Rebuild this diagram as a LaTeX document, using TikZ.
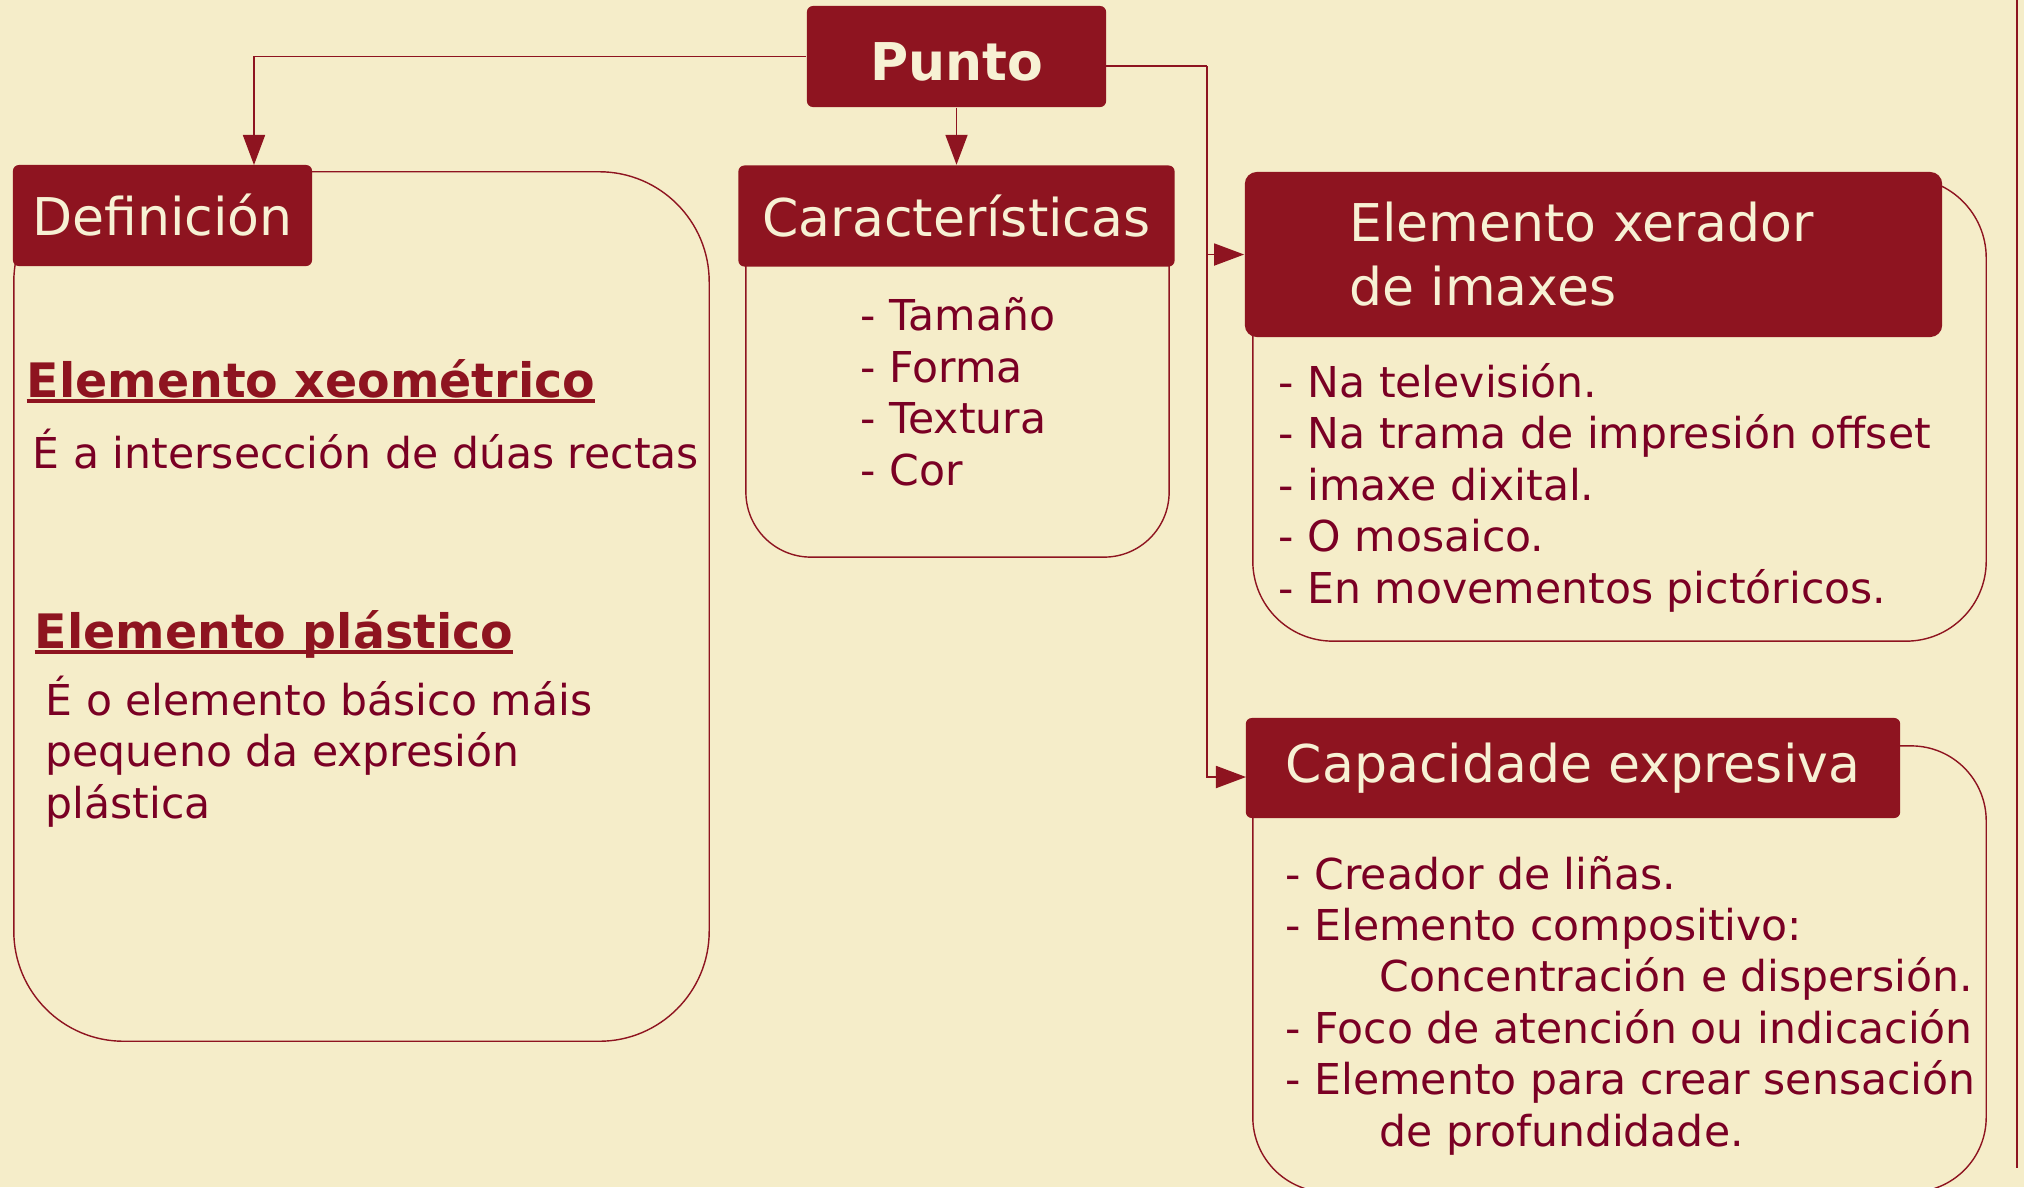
\documentclass[tikz,border=0pt]{standalone}
\usepackage{fontspec}
\setmainfont{DejaVu Sans}
\usepackage{tikz}
\usetikzlibrary{arrows.meta, positioning, graphs}
\definecolor{cream}{RGB}{245,237,201}
\definecolor{puntored}{RGB}{142,20,32}
\definecolor{inkred}{RGB}{122,0,36}
\newcommand{\undertext}[1]{\setbox0\hbox{#1}\rlap{\rule[-1.7pt]{\wd0}{1pt}}\box0}
\tikzset{
x=0.01cm, y=-0.01cm,
>={Triangle[length=0.3cm, width=0.22cm]},
headbox/.style={%
    rectangle,
    rounded corners=0.6mm,
    fill=puntored,
    draw=none,
    text=cream!80!white,
    inner sep=0pt,
    font=\fontsize{14.8}{18.2}\selectfont
},
panel/.style={%
    rectangle,
    draw=puntored,
    line width=0.4pt,
    inner sep=0pt
},
% base west of these is the baseline of the last line
items/.style={%
    anchor=base west, align=left, inner sep=0pt,
    font=\fontsize{12.1}{14.6}\selectfont
},
heading/.style={%
    anchor=base west, inner sep=0pt, text=puntored,
    font=\fontsize{13.5}{16}\selectfont\bfseries
},
hv path/.style={to path={-| (\tikztotarget)}},
vh path/.style={to path={|- (\tikztotarget)}},
}

\begin{document}
\begin{tikzpicture}[puntored, text=inkred]
	\fill[cream] (0,0) rectangle (2024,1187);
	\useasboundingbox (0,0) rectangle (2024,1187);
	\draw[line width=0.7pt] (2017,0) -- (2017,1168);

	% panels behind the headers
	\node[panel, rounded corners=1.1cm, minimum width=6.95cm, minimum height=8.69cm] (defbox) at (361.5,606.5) {};
	\node[panel, rounded corners=0.65cm, minimum width=4.23cm, minimum height=3.67cm] (carbox) at (957.5,373.5) {};
	\node[panel, rounded corners=0.8cm, minimum width=7.33cm, minimum height=4.63cm] (xerbox) at (1619.5,409.5) {};
	\node[panel, rounded corners=0.75cm, minimum width=7.33cm, minimum height=4.46cm] (capbox) at (1619.5,969) {};

	% headers
	\node[headbox, minimum width=2.99cm, minimum height=1.01cm, text height=0.47cm, text depth=0pt, font=\fontsize{14.8}{18}\selectfont\bfseries] (punto) at (956.5,56.5) {Punto};
	\node[headbox, minimum width=2.99cm, minimum height=1.01cm] (def) at (162.5,215.5) {Definición};
	\node[headbox, minimum width=4.36cm, minimum height=1.01cm, below=0.57cm of punto] (car) {Características};
	\node[headbox, rounded corners=1.2mm, minimum width=6.97cm, minimum height=1.65cm, align=left] (xer) at (1593.5,254.5) {Elemento xerador\hspace*{0.24cm}\\de imaxes};
	\node[headbox, minimum width=6.54cm, minimum height=1cm] (cap) at (1573,768) {Capacidade expresiva};

	% texts
	\node[heading] (xeo) at (26,397) {\undertext{Elemento xeométrico}};
	\node[items] (xeotxt) at (32,468) {É a intersección de dúas rectas};
	\node[heading] (pla) at (34,648) {\undertext{Elemento plástico}};
	\node[items] (platxt) at (45,818) {É o elemento básico máis\\pequeno da expresión\\plástica};
	\node[items] (carlist) at (860,485) {- Tamaño\\- Forma\\- Textura\\- Cor};
	\node[items] (xerlist) at (1278,603) {- Na televisión.\\- Na trama de impresión offset\\- imaxe dixital.\\- O mosaico.\\- En movementos pictóricos.};
	\node[items] (caplist) at (1285,1146) {- Creador de liñas.\\- Elemento compositivo:\\\hspace*{0.94cm}Concentración e dispersión.\\- Foco de atención ou indicación\\- Elemento para crear sensación\\\hspace*{0.94cm}de profundidade.};

	\coordinate (dtop) at (254,165);
	\coordinate (pout) at (1106,66);
	\coordinate (j1) at (1207,66);
	\coordinate (cin) at (1246,777);

\graph [use existing nodes, edges={line width=0.5pt}] {
punto ->[hv path] dtop;
punto -> car;
pout -- j1;
j1 ->[vh path] xer;
j1 ->[vh path] cin;
};
\end{tikzpicture}
\end{document}
